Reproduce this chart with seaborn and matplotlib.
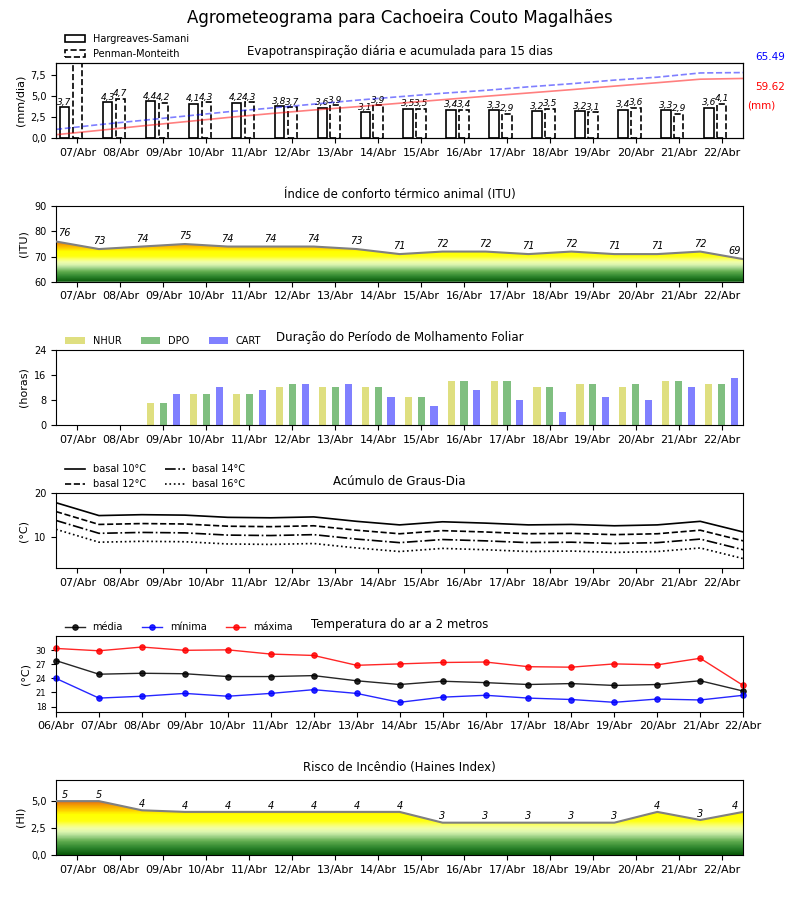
# %% Agrometeograma - Cachoeira Couto Magalhaes
import numpy as np
import pandas as pd
import matplotlib
matplotlib.use('Agg')
import matplotlib.pyplot as plt
import seaborn as sns
from matplotlib.colors import LinearSegmentedColormap
from matplotlib.patches import Polygon, Patch

# %% Dados
dias = ['07/Abr', '08/Abr', '09/Abr', '10/Abr', '11/Abr', '12/Abr', '13/Abr', '14/Abr',
        '15/Abr', '16/Abr', '17/Abr', '18/Abr', '19/Abr', '20/Abr', '21/Abr', '22/Abr']
dias_temp = ['06/Abr'] + dias

# evapotranspiracao diaria (mm/dia)
et_hs = [3.7, 4.3, 4.4, 4.1, 4.2, 3.8, 3.6, 3.1, 3.5, 3.4, 3.3, 3.2, 3.2, 3.4, 3.3, 3.6]
et_pm = [9.0, 4.7, 4.2, 4.3, 4.3, 3.7, 3.9, 3.9, 3.5, 3.4, 2.9, 3.5, 3.1, 3.6, 2.9, 4.1]
# acumulada (mm)
et_hs_acum = [3.7, 8.0, 12.4, 16.6, 20.8, 24.7, 28.3, 31.5, 35.0, 38.5, 41.9, 45.2, 48.5, 52.0, 55.4, 58.9, 59.62]
et_pm_acum = [9.0, 13.7, 17.9, 22.2, 26.5, 30.2, 34.1, 38.0, 41.5, 44.9, 47.8, 51.3, 54.4, 58.0, 60.9, 65.1, 65.49]

# indice de temperatura e umidade
itu = [76, 73, 74, 75, 74, 74, 74, 73, 71, 72, 72, 71, 72, 71, 71, 72, 69]

# molhamento foliar (horas)
molh_nhur = [0, 0, 7, 10, 10, 12, 12, 12, 9, 14, 14, 12, 13, 12, 14, 13]
molh_dpo = [0, 0, 7, 10, 10, 13, 12, 12, 9, 14, 14, 12, 13, 13, 14, 13]
molh_cart = [0, 0, 10, 12, 11, 13, 13, 9, 6, 11, 8, 4, 9, 8, 12, 15]

# graus-dia
gd_10 = [17.8, 14.9, 15.1, 15.0, 14.5, 14.4, 14.6, 13.6, 12.8, 13.5, 13.2, 12.8, 12.9, 12.6, 12.8, 13.6, 11.2]
gd_12 = [15.8, 12.9, 13.1, 13.0, 12.5, 12.4, 12.6, 11.6, 10.8, 11.5, 11.2, 10.8, 10.9, 10.6, 10.8, 11.6, 9.2]
gd_14 = [13.8, 10.9, 11.1, 11.0, 10.5, 10.4, 10.6, 9.6, 8.8, 9.5, 9.2, 8.8, 8.9, 8.6, 8.8, 9.6, 7.2]
gd_16 = [11.8, 8.9, 9.1, 9.0, 8.5, 8.4, 8.6, 7.6, 6.8, 7.5, 7.2, 6.8, 6.9, 6.6, 6.8, 7.6, 5.2]

# temperatura do ar (C)
t_media = [27.8, 24.9, 25.1, 25.0, 24.4, 24.4, 24.6, 23.5, 22.7, 23.4, 23.1, 22.7, 22.9, 22.5, 22.7, 23.5, 21.3]
t_min = [24.0, 19.8, 20.2, 20.8, 20.2, 20.8, 21.6, 20.8, 18.9, 20.0, 20.4, 19.8, 19.5, 18.9, 19.6, 19.4, 20.4]
t_max = [30.4, 29.9, 30.7, 30.0, 30.1, 29.2, 28.9, 26.8, 27.1, 27.4, 27.5, 26.5, 26.4, 27.1, 26.9, 28.3, 22.5]

# risco de incendio (Haines)
haines = [5, 5, 4.15, 4, 4, 4, 4, 4, 4, 3, 3, 3, 3, 3, 4, 3.25, 4]

# %% Configuracao
plt.rcParams['font.size'] = 8
plt.rcParams['xtick.labelsize'] = 8
plt.rcParams['ytick.labelsize'] = 7
plt.rcParams['axes.titlesize'] = 8.5
plt.rcParams['axes.labelsize'] = 8

xd = np.arange(len(dias))
xm = np.arange(len(dias) + 1) - 0.5

cores = [(0.0, '#0a5a0a'), (0.12, '#2e862e'), (0.24, '#62ae50'), (0.33, '#a8d890'),
         (0.40, '#dcf5b0'), (0.47, '#f2ffa8'), (0.54, '#fbff60'), (0.60, '#ffff10'),
         (0.72, '#ffff00'), (0.79, '#ffd200'), (0.87, '#f7a800'), (0.94, '#ea7a10'), (1.0, '#d85a00')]
cmap_risco = LinearSegmentedColormap.from_list('risco', cores, N=40)


def preenche_gradiente(ax, x, y, vmin, vmax):
    verts = [(x[0], vmin)] + list(zip(x, y)) + [(x[-1], vmin)]
    poly = Polygon(verts, closed=True, fc='none', ec='none')
    ax.add_patch(poly)
    grad = np.linspace(vmin, vmax, 300).reshape(-1, 1)
    im = ax.imshow(grad, aspect='auto', cmap=cmap_risco, origin='lower',
                   extent=[x[0], x[-1], vmin, vmax], vmin=vmin, vmax=vmax, zorder=1)
    im.set_clip_path(poly)


def rotulos(ax, x, y, dy):
    for xi, yi in zip(x, y):
        ax.text(np.clip(xi, -0.3, 15.3), yi + dy, str(int(round(yi))), ha='center', va='bottom',
                fontsize=7, style='italic')


def eixo_dias(ax):
    ax.set_xlim(-0.5, 15.5)
    ax.set_xticks(xd)
    ax.set_xticklabels(dias)
    ax.set_xlabel('')


fig, axs = plt.subplots(6, 1, figsize=(8, 9))
fig.subplots_adjust(left=0.07, right=0.929, top=0.93, bottom=0.05, hspace=0.9)
fig.suptitle('Agrometeograma para Cachoeira Couto Magalhães', fontsize=12, y=0.99)

# %% Evapotranspiracao
ax = axs[0]
ax.bar(xd - 0.3, et_hs, width=0.22, facecolor='white', edgecolor='black', lw=1.2)
ax.bar(xd, et_pm, width=0.22, facecolor='white', edgecolor='black', lw=1.2, ls='--')
for i in range(len(dias)):
    ax.text(xd[i] - 0.3, et_hs[i] + 0.05, f'{et_hs[i]:.1f}'.replace('.', ','), ha='center',
            va='bottom', fontsize=6.5, style='italic', clip_on=True)
    ax.text(xd[i], et_pm[i] + 0.05, f'{et_pm[i]:.1f}'.replace('.', ','), ha='center',
            va='bottom', fontsize=6.5, style='italic', clip_on=True)
eixo_dias(ax)
ax.set_ylim(0, 8.9)
ax.set_yticks([0, 2.5, 5, 7.5])
ax.set_yticklabels(['0,0', '2,5', '5,0', '7,5'])
ax.set_ylabel('(mm/dia)')
ax.set_title('Evapotranspiração diária e acumulada para 15 dias')
leg = [Patch(facecolor='white', edgecolor='black', lw=1.2),
       Patch(facecolor='white', edgecolor='black', lw=1.2, ls='--')]
ax.legend(leg, ['Hargreaves-Samani', 'Penman-Monteith'], loc='lower left',
          bbox_to_anchor=(0.008, 1.0), frameon=False, fontsize=7, borderaxespad=0)

ax2 = ax.twinx()
sns.lineplot(x=xm, y=et_pm_acum, ax=ax2, color='blue', alpha=0.5, linestyle='--', lw=1.2)
sns.lineplot(x=xm, y=et_hs_acum, ax=ax2, color='red', alpha=0.5, lw=1.2)
ax2.set_ylim(0, 75)
ax2.set_yticks([])
ax2.set_xlim(-0.5, 15.5)
ax.text(1.017, 1.08, f'{et_pm_acum[-1]:.2f}', color='blue', fontsize=7.5, transform=ax.transAxes, va='center')
ax.text(1.017, 0.68, f'{et_hs_acum[-1]:.2f}', color='red', fontsize=7.5, transform=ax.transAxes, va='center')
ax.text(1.005, 0.44, '(mm)', color='red', fontsize=7.5, transform=ax.transAxes, va='center')

# %% ITU
ax = axs[1]
preenche_gradiente(ax, xm, itu, 60, 77)
sns.lineplot(x=xm, y=itu, ax=ax, color='gray', lw=1.5, zorder=3)
rotulos(ax, xm, itu, 1.2)
eixo_dias(ax)
ax.set_ylim(60, 90)
ax.set_yticks([60, 70, 80, 90])
ax.set_ylabel('(ITU)')
ax.set_title('Índice de conforto térmico animal (ITU)')

# %% Molhamento foliar
ax = axs[2]
df_molh = pd.DataFrame({'dia': dias * 3,
                        'horas': molh_nhur + molh_dpo + molh_cart,
                        'metodo': ['NHUR'] * 16 + ['DPO'] * 16 + ['CART'] * 16})
pal = {'NHUR': '#dfdf80', 'DPO': '#80bf80', 'CART': '#8080ff'}
sns.barplot(data=df_molh, x='dia', y='horas', hue='metodo', order=dias, hue_order=['NHUR', 'DPO', 'CART'],
            palette=pal, saturation=1, width=0.9, gap=0.45, legend=False, ax=ax, linewidth=0)
eixo_dias(ax)
ax.set_ylim(0, 24)
ax.set_yticks([0, 8, 16, 24])
ax.set_ylabel('(horas)')
ax.set_title('Duração do Período de Molhamento Foliar')
leg = [Patch(facecolor=pal[k]) for k in ['NHUR', 'DPO', 'CART']]
ax.legend(leg, ['NHUR', 'DPO', 'CART'], loc='lower left', bbox_to_anchor=(0.008, 1.0), ncol=3,
          frameon=False, fontsize=7, borderaxespad=0)

# %% Graus-dia
ax = axs[3]
for serie, estilo, nome in [(gd_10, '-', 'basal 10°C'), (gd_12, '--', 'basal 12°C'),
                            (gd_14, '-.', 'basal 14°C'), (gd_16, ':', 'basal 16°C')]:
    sns.lineplot(x=xm, y=serie, ax=ax, color='black', linestyle=estilo, lw=1.2, label=nome)
eixo_dias(ax)
ax.set_ylim(3, 20)
ax.set_yticks([10, 20])
ax.set_ylabel('(°C)')
ax.set_title('Acúmulo de Graus-Dia')
ax.legend(loc='lower left', bbox_to_anchor=(0.008, 1.0), ncol=2, frameon=False, fontsize=7,
          borderaxespad=0)

# %% Temperatura
ax = axs[4]
xt = np.arange(len(dias_temp))
for serie, cor, nome in [(t_media, 'black', 'média'), (t_min, 'blue', 'mínima'), (t_max, 'red', 'máxima')]:
    sns.lineplot(x=xt, y=serie, ax=ax, color=cor, lw=1, marker='o', markersize=4,
                 markeredgecolor=cor, label=nome, alpha=0.85, clip_on=False)
ax.set_xlim(0, 16)
ax.set_xticks(xt)
ax.set_xticklabels(dias_temp)
ax.set_ylim(16.9, 33.0)
ax.set_yticks([18, 21, 24, 27, 30])
ax.tick_params(axis='y', labelsize=6)
ax.set_ylabel('(°C)')
ax.set_title('Temperatura do ar a 2 metros')
ax.legend(loc='lower left', bbox_to_anchor=(0.008, 1.0), ncol=3, frameon=False, fontsize=7,
          borderaxespad=0)

# %% Haines
ax = axs[5]
preenche_gradiente(ax, xm, haines, 0, 5.2)
sns.lineplot(x=xm, y=haines, ax=ax, color='gray', lw=1.5, zorder=3)
rotulos(ax, xm, haines, 0.12)
eixo_dias(ax)
ax.set_ylim(0, 7)
ax.set_yticks([0, 2.5, 5])
ax.set_yticklabels(['0,0', '2,5', '5,0'])
ax.set_ylabel('(HI)')
ax.set_title('Risco de Incêndio (Haines Index)')

plt.savefig('out.png', dpi=100)
